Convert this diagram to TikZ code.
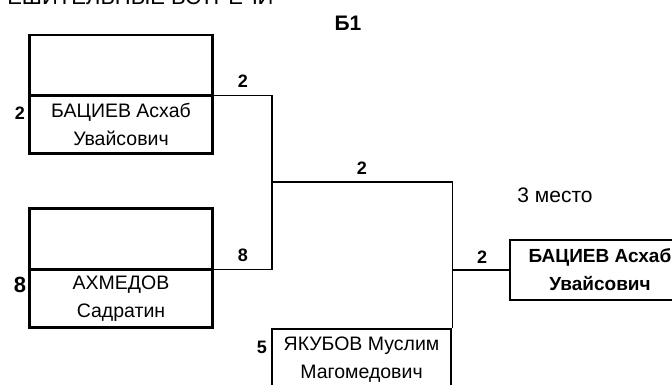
\documentclass[tikz,border=0pt]{standalone}
\usepackage{fontspec}
\setmainfont{Liberation Sans}
\usetikzlibrary{positioning}

\begin{document}
\begin{tikzpicture}[
            x=1pt, y=-1pt,
            namebox/.style={
                    draw,
                    line width=1.2pt,
                    minimum width=182pt,
                    minimum height=57pt,
                    inner sep=0pt,
                    align=center,
                    font=\fontsize{19.5}{28}\selectfont
                },
            blankbox/.style={
                    draw,
                    line width=1.2pt,
                    minimum width=182pt,
                    minimum height=59pt,
                    inner sep=0pt
                },
            frame/.style={
                    line width=2.6pt
                },
            wire/.style={
                    line width=1.3pt
                },
            score/.style={
                    font=\bfseries\fontsize{18}{18}\selectfont,
                    inner sep=0pt
                }
        ]

        \useasboundingbox (0,0) rectangle (672,385);
        \clip (0,0) rectangle (672,385);


        \node[anchor=base east, font=\fontsize{22}{22}\selectfont]
        (title) at (277,4.5)
        {ЕШИТЕЛЬНЫЕ ВСТРЕЧИ};

        \node[font=\bfseries\fontsize{21}{21}\selectfont]
        (group) at (348,23)
        {Б1};

        \node[font=\fontsize{21}{21}\selectfont]
        (place) at (555,195)
        {3 место};


        \node[namebox] (bac) at (121,124.5)
        {БАЦИЕВ Асхаб\\Увайсович};

        \node[blankbox,above=0pt of bac]
        (bactop) {};

        \draw[frame] (bactop.north west) rectangle (bac.south east);


        \node[namebox] (ahm) at (121,298.5)
        {АХМЕДОВ\\Садратин};

        \node[blankbox,above=0pt of ahm,minimum height=60pt]
        (ahmtop) {};

        \draw[frame] (ahmtop.north west) rectangle (ahm.south east);


        \node[namebox,draw,line width=2.6pt,minimum width=179pt,minimum height=62pt]
        (yak) at (361.5,360)
        {ЯКУБОВ Муслим\\Магомедович};


        \node[namebox,line width=2.6pt,minimum width=180pt,minimum height=60pt,
              font=\bfseries\fontsize{19}{28}\selectfont]
        (fin) at (600,270)
        {БАЦИЕВ Асхаб\\Увайсович};


        % seeds
        \node[score] (s1) at (20,113) {2};
        \node[score,font=\bfseries\fontsize{22}{22}\selectfont] (s2) at (20,285) {8};
        \node[score] (s3) at (262,347) {5};


        % bracket lines
        \coordinate (split) at (272,182);

        \draw[wire] (bac.north east) -| (split) |- (ahm.north east);
        \draw[wire] (split) -- (split -| yak.north east) -- (yak.north east);
        \draw[wire] (fin.west) -- (fin.west -| yak.north east);


        \node[score] (w1) at (243,81) {2};
        \node[score] (w2) at (243,255) {8};
        \node[score] (w3) at (362,168) {2};
        \node[score] (w4) at (482,257) {2};


    \end{tikzpicture}
\end{document}
